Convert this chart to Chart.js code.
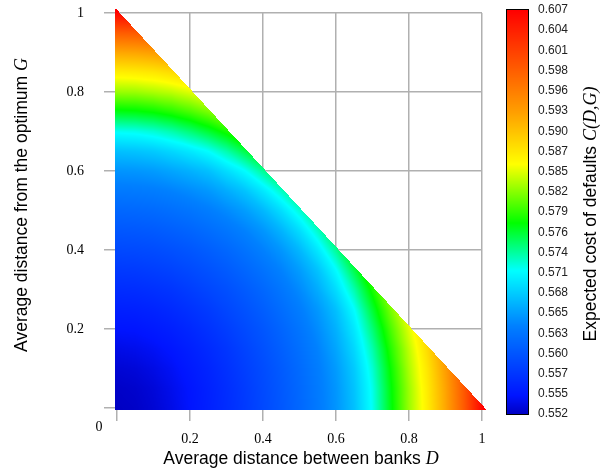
<!DOCTYPE html>
<html>
<head>
<meta charset="utf-8">
<script src="https://cdn.jsdelivr.net/npm/chart.js@4.4.1/dist/chart.umd.min.js"></script>
<style>
  html, body { margin: 0; padding: 0; background: #fff; }
</style>
</head>
<body>
<canvas id="costChart" width="601" height="475"></canvas>
<script>
// grid of the surface: D (x) and G (y) in steps of 0.05
const dValues = [0, 0.05, 0.1, 0.15, 0.2, 0.25, 0.3, 0.35, 0.4, 0.45, 0.5, 0.55, 0.6, 0.65, 0.7, 0.75, 0.8, 0.85, 0.9, 0.95, 1];
const gValues = [0, 0.05, 0.1, 0.15, 0.2, 0.25, 0.3, 0.35, 0.4, 0.45, 0.5, 0.55, 0.6, 0.65, 0.7, 0.75, 0.8, 0.85, 0.9, 0.95, 1];

// expected cost C(D,G), one row per G (only D + G <= 1)
const costG00 = [0.5520, 0.5522, 0.5527, 0.5535, 0.5545, 0.5555, 0.5566, 0.5578, 0.5591, 0.5604, 0.5618, 0.5634, 0.5652, 0.5678, 0.5718, 0.5775, 0.5828, 0.5872, 0.5925, 0.5990, 0.6065];
const costG05 = [0.5522, 0.5524, 0.5529, 0.5537, 0.5546, 0.5556, 0.5567, 0.5579, 0.5592, 0.5605, 0.5619, 0.5635, 0.5653, 0.5680, 0.5720, 0.5777, 0.5829, 0.5874, 0.5927, 0.5992];
const costG10 = [0.5527, 0.5529, 0.5534, 0.5541, 0.5550, 0.5559, 0.5570, 0.5582, 0.5594, 0.5607, 0.5621, 0.5637, 0.5656, 0.5684, 0.5726, 0.5782, 0.5834, 0.5878, 0.5932];
const costG15 = [0.5535, 0.5537, 0.5541, 0.5547, 0.5555, 0.5564, 0.5574, 0.5586, 0.5598, 0.5611, 0.5625, 0.5641, 0.5662, 0.5692, 0.5736, 0.5791, 0.5840, 0.5886];
const costG20 = [0.5545, 0.5546, 0.5550, 0.5555, 0.5562, 0.5571, 0.5581, 0.5592, 0.5603, 0.5616, 0.5630, 0.5647, 0.5669, 0.5702, 0.5750, 0.5803, 0.5850];
const costG25 = [0.5555, 0.5556, 0.5559, 0.5564, 0.5571, 0.5579, 0.5589, 0.5599, 0.5610, 0.5623, 0.5637, 0.5654, 0.5678, 0.5715, 0.5767, 0.5818];
const costG30 = [0.5566, 0.5567, 0.5570, 0.5574, 0.5581, 0.5589, 0.5597, 0.5607, 0.5618, 0.5631, 0.5646, 0.5666, 0.5695, 0.5736, 0.5787];
const costG35 = [0.5578, 0.5579, 0.5582, 0.5586, 0.5592, 0.5599, 0.5607, 0.5617, 0.5628, 0.5641, 0.5657, 0.5680, 0.5714, 0.5762];
const costG40 = [0.5591, 0.5592, 0.5594, 0.5598, 0.5603, 0.5610, 0.5618, 0.5628, 0.5640, 0.5653, 0.5673, 0.5702, 0.5742];
const costG45 = [0.5604, 0.5605, 0.5607, 0.5611, 0.5616, 0.5623, 0.5631, 0.5641, 0.5653, 0.5671, 0.5696, 0.5730];
const costG50 = [0.5618, 0.5619, 0.5621, 0.5625, 0.5630, 0.5637, 0.5646, 0.5657, 0.5673, 0.5696, 0.5726];
const costG55 = [0.5634, 0.5635, 0.5637, 0.5641, 0.5647, 0.5654, 0.5666, 0.5680, 0.5702, 0.5730];
const costG60 = [0.5652, 0.5653, 0.5656, 0.5662, 0.5669, 0.5678, 0.5695, 0.5714, 0.5742];
const costG65 = [0.5678, 0.5680, 0.5684, 0.5692, 0.5702, 0.5715, 0.5736, 0.5762];
const costG70 = [0.5718, 0.5720, 0.5726, 0.5736, 0.5750, 0.5767, 0.5787];
const costG75 = [0.5775, 0.5777, 0.5782, 0.5791, 0.5803, 0.5818];
const costG80 = [0.5828, 0.5829, 0.5834, 0.5840, 0.5850];
const costG85 = [0.5872, 0.5874, 0.5878, 0.5886];
const costG90 = [0.5925, 0.5927, 0.5932];
const costG95 = [0.5990, 0.5992];
const costG100 = [0.6065];

const costRows = [costG00, costG05, costG10, costG15, costG20, costG25, costG30, costG35, costG40, costG45,
  costG50, costG55, costG60, costG65, costG70, costG75, costG80, costG85, costG90, costG95, costG100];

// tick labels
const dTickLabels = ['', '0.2', '0.4', '0.6', '0.8', '1'];
const gTickLabels = ['', '0.2', '0.4', '0.6', '0.8', '1'];
const cbTickLabels = ['0.552', '0.555', '0.557', '0.560', '0.563', '0.565', '0.568', '0.571', '0.574', '0.576',
  '0.579', '0.582', '0.585', '0.587', '0.590', '0.593', '0.596', '0.598', '0.601', '0.604', '0.607'];

// jet-like colour map (value -> rgb)
const colourStops = [
  [0.5520, [0, 0, 195]],
  [0.5545, [0, 20, 255]],
  [0.5640, [0, 128, 255]],
  [0.5715, [0, 255, 255]],
  [0.5780, [0, 255, 0]],
  [0.5860, [255, 255, 0]],
  [0.5930, [255, 160, 0]],
  [0.6000, [255, 80, 0]],
  [0.6070, [255, 0, 0]],
];

const SERIF = "'Liberation Serif', 'Times New Roman', serif";
const SANS = "'Liberation Sans', Arial, sans-serif";
const gridColour = '#b0b0b0';

function colourOf(v) {
  if (v <= colourStops[0][0]) return colourStops[0][1];
  for (let k = 1; k < colourStops.length; k++) {
    if (v <= colourStops[k][0]) {
      const [v0, c0] = colourStops[k - 1];
      const [v1, c1] = colourStops[k];
      const t = (v - v0) / (v1 - v0);
      return c0.map((c, m) => Math.round(c + t * (c1[m] - c)));
    }
  }
  return colourStops[colourStops.length - 1][1];
}

// value of the surface between grid nodes (linear on triangles of the grid)
function costAt(d, g) {
  const n = dValues.length - 1;
  const step = dValues[1] - dValues[0];
  const u = Math.max(0, d) / step;
  const v = Math.max(0, g) / step;
  let i = Math.min(Math.floor(u), n - 1);
  let j = Math.min(Math.floor(v), n - 1);
  while (i + j > n - 1) {
    if (i >= j) i--; else j--;
  }
  const fu = u - i, fv = v - j;
  const z = (a, b) => costRows[b][a];
  if (fu + fv <= 1 || i + j >= n - 1) {
    return z(i, j) + fu * (z(i + 1, j) - z(i, j)) + fv * (z(i, j + 1) - z(i, j));
  }
  const z11 = z(i + 1, j + 1);
  return z11 + (1 - fu) * (z(i, j + 1) - z11) + (1 - fv) * (z(i + 1, j) - z11);
}

// === surface drawn inside the plot area ===
const surfacePlugin = {
  id: 'surface',
  beforeDatasetsDraw(chart) {
    const { ctx, chartArea, scales: { x, y } } = chart;
    const left = Math.floor(chartArea.left) - 3;
    const top = Math.floor(chartArea.top) - 4;
    const w = Math.ceil(chartArea.right) + 5 - left;
    const h = Math.ceil(chartArea.bottom) + 3 - top;
    const off = document.createElement('canvas');
    off.width = w;
    off.height = h;
    const octx = off.getContext('2d');
    const img = octx.createImageData(w, h);
    for (let py = 0; py < h; py++) {
      const g = y.getValueForPixel(top + py + 0.5);
      for (let px = 0; px < w; px++) {
        const d = x.getValueForPixel(left + px + 0.5);
        if (d < -0.006 || g < -0.004 || d + g > 1.008) continue;
        const c = colourOf(costAt(d, g));
        const k = (py * w + px) * 4;
        img.data[k] = c[0];
        img.data[k + 1] = c[1];
        img.data[k + 2] = c[2];
        img.data[k + 3] = 255;
      }
    }
    octx.putImageData(img, 0, 0);
    ctx.drawImage(off, left, top);
  }
};

function drawMixed(ctx, parts, cx, cy, angle) {
  ctx.save();
  ctx.translate(cx, cy);
  ctx.rotate(angle);
  ctx.textBaseline = 'alphabetic';
  ctx.textAlign = 'left';
  ctx.fillStyle = '#000';
  let total = 0;
  parts.forEach((p) => {
    ctx.font = p.font;
    p.w = ctx.measureText(p.text).width;
    total += p.w;
  });
  let pos = -total / 2;
  parts.forEach((p) => {
    ctx.font = p.font;
    ctx.fillText(p.text, pos, 0);
    pos += p.w;
  });
  ctx.restore();
}

// === colour bar, axis titles and origin label ===
const decorPlugin = {
  id: 'decor',
  afterDraw(chart) {
    const { ctx, scales: { cb } } = chart;
    const last = cbTickLabels.length - 1;
    const vMin = parseFloat(cbTickLabels[0]);
    const vMax = parseFloat(cbTickLabels[last]);
    const yTop = Math.round(cb.getPixelForValue(last)) - 1;
    const yBot = Math.round(cb.getPixelForValue(0)) + 1;
    const barX = Math.round(cb.left) + 24;
    const barW = 22;
    for (let py = yTop; py < yBot; py++) {
      const idx = cb.getValueForPixel(py + 0.5);
      const c = colourOf(vMin + (vMax - vMin) * idx / last);
      ctx.fillStyle = `rgb(${c[0]},${c[1]},${c[2]})`;
      ctx.fillRect(barX, py, barW, 1);
    }
    ctx.strokeStyle = '#000';
    ctx.lineWidth = 1;
    ctx.strokeRect(barX + 0.5, yTop + 0.5, barW, yBot - yTop - 1);

    const sans = `17.5px ${SANS}`;
    const ital = `italic 18px ${SERIF}`;
    drawMixed(ctx, [{ text: 'Average distance between banks ', font: sans }, { text: 'D', font: ital }], 301, 464, 0);
    drawMixed(ctx, [{ text: 'Average distance from the optimum ', font: sans }, { text: 'G', font: ital }], 27, 205, -Math.PI / 2);
    drawMixed(ctx, [{ text: 'Expected cost of defaults ', font: sans }, { text: 'C(D,G)', font: ital }], 596, 214, -Math.PI / 2);

    ctx.save();
    ctx.font = `14px ${SERIF}`;
    ctx.fillStyle = '#000';
    ctx.textAlign = 'center';
    ctx.textBaseline = 'middle';
    ctx.fillText('0', 99, 427);
    ctx.restore();
  }
};

// keep the plot box where the reference has it
function noLabelPadding(s) {
  s.paddingTop = 0;
  s.paddingBottom = 0;
  s.paddingLeft = 0;
  s.paddingRight = 0;
}

const gridPoints = costRows.flatMap((row, j) => row.map((c, i) => ({ x: dValues[i], y: gValues[j], v: c })));

new Chart(document.getElementById('costChart'), {
  type: 'scatter',
  data: {
    datasets: [{
      data: gridPoints,
      xAxisID: 'x',
      yAxisID: 'y',
      pointRadius: 0,
      pointHoverRadius: 0,
    }],
  },
  options: {
    responsive: false,
    animation: false,
    devicePixelRatio: 1,
    events: [],
    layout: { padding: { top: 13, left: 0, right: 0, bottom: 0 } },
    plugins: {
      legend: { display: false },
      tooltip: { enabled: false },
    },
    scales: {
      x: {
        type: 'linear',
        position: 'bottom',
        min: 0,
        max: 1,
        afterFit: (s) => { s.height = 67; noLabelPadding(s); },
        border: { display: false },
        grid: { color: gridColour, lineWidth: 1.5, tickLength: 13, tickColor: gridColour },
        ticks: {
          stepSize: 0.2,
          padding: 10,
          maxRotation: 0,
          autoSkip: false,
          color: '#000',
          font: { family: SERIF, size: 14 },
          callback: (v, i) => dTickLabels[i],
        },
      },
      y: {
        type: 'linear',
        position: 'left',
        min: 0,
        max: 1,
        afterFit: (s) => { s.width = 117; noLabelPadding(s); },
        border: { display: false },
        grid: { color: gridColour, lineWidth: 1.5, tickLength: 13, tickColor: gridColour },
        ticks: {
          stepSize: 0.2,
          padding: 20,
          autoSkip: false,
          color: '#000',
          font: { family: SERIF, size: 14 },
          callback: (v, i) => gTickLabels[i],
        },
      },
      cb: {
        type: 'linear',
        axis: 'y',
        position: 'right',
        min: 0.3,
        max: 19.85,
        afterFit: (s) => { s.width = 119; noLabelPadding(s); },
        afterBuildTicks: (s) => { s.ticks = cbTickLabels.map((_, i) => ({ value: i })); },
        border: { display: false },
        grid: { display: false, drawOnChartArea: false },
        ticks: {
          padding: 48,
          autoSkip: false,
          color: '#222',
          font: { family: "'Liberation Sans Narrow', 'Arial Narrow', " + SANS, size: 12 },
          callback: (v) => cbTickLabels[v],
        },
      },
    },
  },
  plugins: [surfacePlugin, decorPlugin],
});
</script>
</body>
</html>
